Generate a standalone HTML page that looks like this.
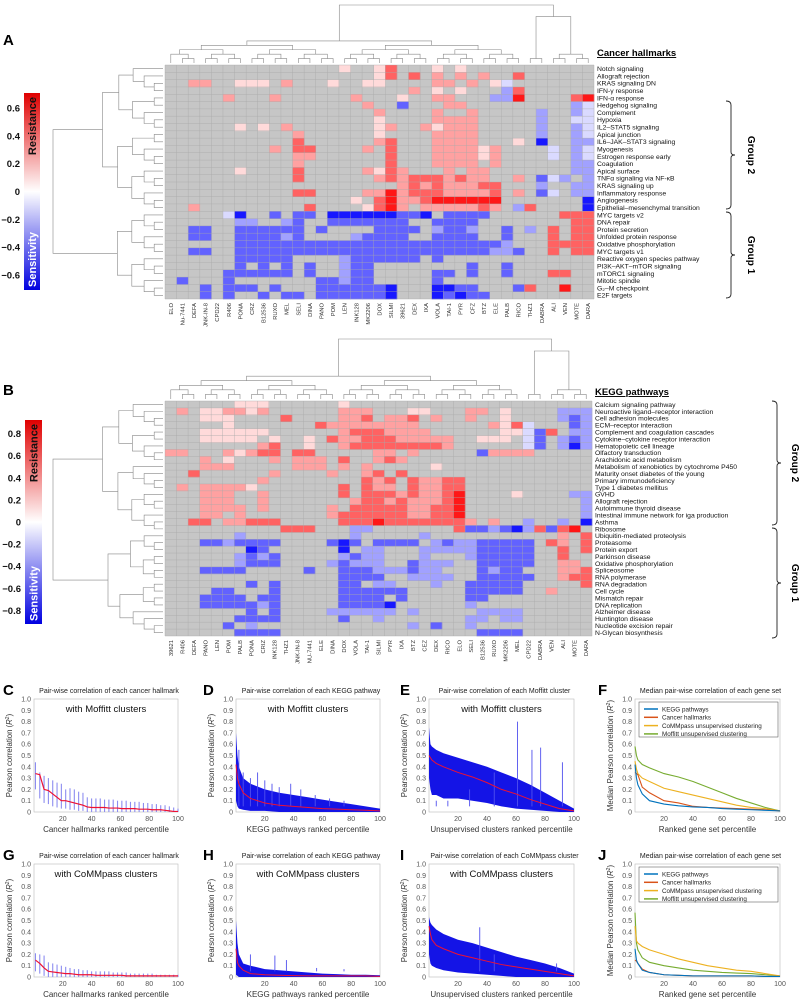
<!DOCTYPE html>
<html><head><meta charset="utf-8">
<style>
html,body{margin:0;padding:0;background:#fff;}
svg{display:block;font-family:"Liberation Sans",Arial,sans-serif;}
</style></head>
<body>
<svg id="fig" width="799" height="999" viewBox="0 0 799 999" xmlns="http://www.w3.org/2000/svg"></svg>
<script>
// ---------- DATA ----------
const colsA = ["ELO","Nu-7441","DEFA","JNK-IN-8","CPD22","R406","PONA","CRZ","B12536","RUXO","MEL","SELI","DINA","PANO","POM","LEN","INK128","MK2206","DOX","SILMI","39621","DEX","IXA","VOLA","TAI-1","PYR","CFZ","BTZ","ELE","PALB","RICO","THZ1","DABRA","ALI","VEN","MOTE","DARA"];
const rowsA = ["Notch signaling","Allograft rejection","KRAS signaling DN","IFN-γ response","IFN-α response","Hedgehog signaling","Complement","Hypoxia","IL2–STAT5 signaling","Apical junction","IL6–JAK–STAT3 signaling","Myogenesis","Estrogen response early","Coagulation","Apical surface","TNFα signaling via NF-κB","KRAS signaling up","Inflammatory response","Angiogenesis","Epithelial–mesenchymal transition","MYC targets v2","DNA repair","Protein secretion","Unfolded protein response","Oxidative phosphorylation","MYC targets v1","Reactive oxygen species pathway","PI3K–AKT–mTOR signaling","mTORC1 signaling","Mitotic spindle","G₂–M checkpoint","E2F targets"];
const cellsA = [
".......... .....a..aR ...a.a.... .......",
".......... ........aR .R.r.r.r.. R......",
"..rr..aaa. r...a..aa. ...rr.r.ac .......",
".......... .......... .r.a.a...b R......",
".....r...r ......r... a..rr...bb S....RS",
".......... .......r.. B...rr.... .....bc",
".......... ........r. ...r..r... ..b..bc",
".......... ........a. ...rrrr... ..b..cc",
"......a.a. r.......ar ..rarrr... ..b..bc",
".......... .r......a. ...rrrr... ..b..bc",
".......... .R......rR ...rrrr... a.D..bb",
".........r .RR....r.R ...rrrrar. ...c.bc",
".......... .rr......R ...rrrrar. ...c.bc",
".......... .r.......R ...rrrr.r. .....bb",
"......a... .R.....raR r...r.rr.. .....bb",
".......... .R......rR rRRRrRrr.. r.Bcb.b",
".......... .......... rRrRrrrRR. ..b..bb",
".......... .RR....rrS rRRRrrrrR. r.Bc.bb",
".......... ......a.RS rrRSSSSSS. ......D",
"..r....... ..R....aRS r.rrrrrRr. bR....D",
".....cD..B .BB.DDDDDD BBD.BBBB.. ....RRR",
"......bb.. bB..BBBBBB B..BBBB... .....RR",
"..BB..BBBB BB.B....BB BB.bBBb..B .b.R.RR",
"..BB..BBBB bB....bBBB B..BBBB..B ...R.RR",
"......BBBB BBBBBBBBBB BBBBBBBBBb ...RRRR",
"..BB..BBBB BBBBBBBBBB BBBBBBBBbb B..R.RR",
"......BBBB B....bBBBB BB.B...... .......",
"......B.B. B.B..bBB.. ......B..B .......",
".....BBBBB B.B..bBB.. ...BB.B..B ...RR..",
".B...B.... ...BBbBB.. ...B...... .......",
"...B.BBB.B ...BBBBBBD ...DDBB... BR..S..",
"...B.B..B. BB.BBBBBBD ...DBDBB.. ......."];
const colsB = ["39621","R406","DEFA","PANO","LEN","POM","PALB","PONA","CRIZ","INK128","THZ1","JNK-IN-8","NU-7441","ELE","DINA","DOX","VOLA","TAI-1","SILMI","PYR","IXA","BTZ","CEZ","DEX","RICO","ELO","SELI","B12536","RUXO","MK2206","MEL","CPD22","DABRA","VEN","ALI","MOTE","DARA"];
const rowsB = ["Calcium signaling pathway","Neuroactive ligand–receptor interaction","Cell adhesion molecules","ECM–receptor interaction","Complement and coagulation cascades","Cytokine–cytokine receptor interaction","Hematopoietic cell lineage","Olfactory transduction","Arachidonic acid metabolism","Metabolism of xenobiotics by cytochrome P450","Maturity onset diabetes of the young","Primary immunodeficiency","Type 1 diabetes mellitus","GVHD","Allograft rejection","Autoimmune thyroid disease","Intestinal immune network for iga production","Asthma","Ribosome","Ubiquitin-mediated proteolysis","Proteasome","Protein export","Parkinson disease","Oxidative phosphorylation","Spliceosome","RNA polymerase","RNA degradation","Cell cycle","Mismatch repair","DNA replication","Alzheimer disease","Huntington disease","Nucleotide excision repair","N-Glycan biosynthesis"];
const cellsB = [
"......aaa. .....a.... .......... .......",
".r.aarrar. .....rrr.. .aa...rr.a ....bbb",
"...aaa.... R....rrR.r rR.r..r..a ....bBb",
".....a.... ...Rrrrrrr rr......ra Rc...Bb",
"...aaaaaa. .....rRRRr rrr......a acBR.bb",
"...aaaaa.a ..a.RrrRRR rrrrr..aaa .cB.bBb",
"........rR ..a..rRRRR RRRRr..... .cB.bDb",
"rr...rarRR .RR.....rr .r.....Brr rr.....",
"...r.a...r .rrr.R..rR r......... .......",
"...rrr.... .rrr.r.r.. ...a...... .......",
"..R......r ....r..rR. R......... .......",
"........r. .......RrR .RrrRR.... .......",
".r.rrrra.. .....R.Rrr .RrrRR.... .......",
"...rrr..r. .....R.RRR rRrrRS.... a....bb",
"...rrr..r. ......rRRr RrrrRS.... ......b",
"...rrrr.r. ....r.RRRR RrrRRS.... ......b",
"...rr.r... ....rRRRRR RrrRRS.... ......b",
"..RR.rrRRR .....RRRSR RRRRRRr.r. .b..b.D",
".......... RRR...bb.. .....RBBbB DbRBRS.",
"......b... ......b... ..b....... ....r.R",
"...BBbBBBB ....BDB.BB BB.bBbbBBB BB.Rr.R",
".......DB. .....D.bb. ..bbbbbBBB BB..R.R",
"......bBbB .....bBbb. ..b...bBBB BB..R..",
"......bBBB ....bBbbb. .Bbbb..BBB BB..rr.",
"...BBBB... ..B..BBBbb bBbb...BbB B...rrR",
".......... .....BBBB. .bbbb..BBB BB..rRR",
".......B.B .....BB.bb ...b..BBBB B.....R",
"....BB...B .....BBBBB B.....BBBB B..r...",
"...BBBB.BB .....BBBB. B.....BB.. .......",
"...BBBBBbB .....BBBBD ......b... .......",
".......B.B ....bbbbbb .b.....bbb b......",
"......BBBB .....B..b. ......bb.b b......",
".....B.b.. .......... .b.B..b... .......",
"......BBBB .......... .......BBB B......"];
const codeVal = {".":null,"a":0.1,"r":0.25,"R":0.42,"S":0.62,"c":-0.1,"b":-0.25,"B":-0.42,"D":-0.62};

// bottom panel data
const cX = [1,4,7,10,13,16,19,22,25,28,31,34,37,40,43,46,49,52,55,58,61,64,67,70,73,76,79,82,85,88,91,94,97,100];
const cMed = [0.34,0.33,0.2,0.19,0.16,0.13,0.1,0.1,0.09,0.08,0.07,0.06,0.045,0.04,0.04,0.04,0.04,0.035,0.035,0.035,0.03,0.03,0.03,0.03,0.025,0.025,0.025,0.02,0.02,0.02,0.015,0.01,0.005,0.005];
const cHi = [0.44,0.35,0.32,0.3,0.28,0.26,0.25,0.2,0.21,0.2,0.18,0.17,0.13,0.12,0.12,0.12,0.11,0.11,0.11,0.1,0.1,0.1,0.09,0.09,0.09,0.08,0.08,0.07,0.07,0.06,0.06,0.05,0.04,0.03];
const cLo = [0.2,0.12,0.08,0.07,0.05,0.04,0.03,0.03,0.02,0.02,0.01,0.01,0,0,0,0,0,0,0,0,0,0,0,0,0,0,0,0,0,0,0,0,0,0];
const gMed = [0.15,0.12,0.08,0.05,0.045,0.04,0.035,0.03,0.03,0.025,0.02,0.02,0.02,0.02,0.015,0.015,0.015,0.015,0.015,0.015,0.015,0.01,0.01,0.01,0.01,0.01,0.01,0.01,0.01,0.01,0.01,0.01,0.01,0.01];
const gHi = [0.21,0.2,0.19,0.13,0.12,0.11,0.1,0.09,0.08,0.07,0.07,0.06,0.06,0.05,0.05,0.05,0.05,0.05,0.04,0.04,0.04,0.04,0.03,0.03,0.03,0.03,0.03,0.03,0.02,0.02,0.02,0.02,0.02,0.02];
const gLo = [0.05,0.03,0.01,0,0,0,0,0,0,0,0,0,0,0,0,0,0,0,0,0,0,0,0,0,0,0,0,0,0,0,0,0,0,0];
const bandX = [0,1,2,5,10,20,30,40,50,60,70,80,90,100];
const dMed = [0.42,0.3,0.25,0.17,0.12,0.08,0.06,0.05,0.04,0.03,0.025,0.02,0.015,0.01];
const dHi = [0.7,0.5,0.4,0.3,0.25,0.2,0.17,0.15,0.13,0.11,0.09,0.07,0.05,0.03];
const dLo = [0.1,0.05,0.03,0.02,0.01,0.01,0,0,0,0,0,0,0,0];
const dSpX = [2,5,10,15,20,25,30,38,45,55,65,75];
const dSpY = [0.55,0.35,0.3,0.35,0.28,0.25,0.22,0.25,0.2,0.15,0.12,0.1];
const eMed = [0.5,0.48,0.46,0.43,0.4,0.35,0.31,0.26,0.2,0.16,0.11,0.07,0.03,0.01];
const eHi = [0.75,0.6,0.58,0.55,0.52,0.48,0.44,0.4,0.35,0.3,0.24,0.17,0.1,0.03];
const eLo = [0.3,0.2,0.15,0.15,0.12,0.12,0.1,0.08,0.05,0.03,0.02,0.01,0,0];
const eSpX = [5,13,28,45,61,71,77,92];
const eSpY = [0.1,0.1,0.2,0.35,0.8,0.55,0.57,0.44];
const hMed = [0.25,0.13,0.1,0.06,0.03,0.02,0.015,0.012,0.01,0.01,0.01,0.01,0.01,0.005];
const hHi = [0.5,0.3,0.2,0.12,0.1,0.07,0.06,0.05,0.04,0.03,0.025,0.02,0.02,0.015];
const hLo = [0.02,0.01,0,0,0,0,0,0,0,0,0,0,0,0];
const hSpX = [10,27,35,56,75];
const hSpY = [0.2,0.19,0.15,0.08,0.07];
const iMed = [0.45,0.38,0.33,0.28,0.25,0.2,0.17,0.14,0.11,0.09,0.07,0.05,0.03,0.01];
const iHi = [0.53,0.48,0.46,0.42,0.38,0.33,0.3,0.26,0.22,0.18,0.15,0.12,0.08,0.03];
const iLo = [0.2,0.12,0.1,0.08,0.06,0.04,0.03,0.02,0.01,0,0,0,0,0];
const iSpX = [35,45,88];
const iSpY = [0.44,0.2,0.12];
const legendNames = ["KEGG pathways","Cancer hallmarks","CoMMpass unsupervised clustering","Moffitt unsupervised clustering"];
const fKegg = [0.42,0.3,0.24,0.16,0.1,0.07,0.055,0.045,0.04,0.03,0.025,0.02,0.015,0.01];
const fHall = [0.35,0.34,0.33,0.22,0.17,0.1,0.08,0.05,0.04,0.035,0.03,0.025,0.02,0.01];
const fComm = [0.45,0.38,0.34,0.3,0.27,0.21,0.18,0.15,0.12,0.09,0.06,0.04,0.03,0.01];
const fMoff = [0.58,0.5,0.46,0.42,0.39,0.34,0.31,0.27,0.22,0.17,0.12,0.08,0.04,0.01];
const jKegg = [0.25,0.15,0.12,0.06,0.04,0.02,0.015,0.01,0.01,0.01,0.01,0.01,0.005,0.005];
const jHall = [0.15,0.14,0.12,0.07,0.04,0.02,0.015,0.01,0.01,0.01,0.01,0.01,0.005,0.005];
const jComm = [0.45,0.32,0.3,0.27,0.24,0.2,0.16,0.13,0.1,0.08,0.06,0.05,0.03,0.01];
const jMoff = [0.57,0.3,0.24,0.17,0.13,0.1,0.08,0.06,0.05,0.04,0.035,0.03,0.02,0.01];

// ---------- HELPERS ----------
const NS = "http://www.w3.org/2000/svg";
const svg = document.getElementById("fig");
function el(tag, attrs, parent, txt){
  const e = document.createElementNS(NS, tag);
  for (const k in attrs) e.setAttribute(k, attrs[k]);
  if (txt !== undefined) e.textContent = txt;
  (parent || svg).appendChild(e);
  return e;
}
function grp(name, parent){
  const g = el("g", {}, parent);
  
  
  return g;
}
function valColor(v){
  const t = Math.min(1, Math.abs(v)/0.68);
  const c = Math.round(255*(1-t));
  return v > 0 ? `rgb(255,${c},${c})` : `rgb(${c},${c},255)`;
}

// ---------- HEATMAP ----------
function heatmap(opts){
  const {name, x0, x1, y0, y1, cols, rows, cells, split, title, titleY, colTop, rowLeft} = opts;
  const g = grp(name);
  const nC = cols.length, nR = rows.length;
  const cw = (x1-x0)/nC, rh = (y1-y0)/nR;
  el("rect", {x:x0, y:y0, width:x1-x0, height:y1-y0, fill:"#c6c6c6"}, g);
  rows.forEach((rn, r) => {
    const s = cells[r].replace(/ /g, "");
    for (let c = 0; c < nC; c++){
      const v = codeVal[s[c] || "."];
      if (v === null || v === undefined) continue;
      const cell = el("rect", {x:(x0+c*cw).toFixed(2), y:(y0+r*rh).toFixed(2), width:(cw+0.3).toFixed(2), height:(rh+0.3).toFixed(2), fill:valColor(v)}, g);
      
      
    }
  });
  for (let c = 0; c <= nC; c++) el("line", {x1:x0+c*cw, x2:x0+c*cw, y1:y0, y2:y1, stroke:"#a9a9a9", "stroke-width":0.4}, g);
  for (let r = 0; r <= nR; r++) el("line", {x1:x0, x2:x1, y1:y0+r*rh, y2:y0+r*rh, stroke:"#a9a9a9", "stroke-width":0.4}, g);
  rows.forEach((rn, r) => {
    const t = el("text", {x:x1+3, y:y0+(r+0.5)*rh+2.4, "font-size":6.8, fill:"#111"}, g, rn);
    
    
  });
  cols.forEach((cn, c) => {
    const cx = x0+(c+0.5)*cw+2;
    const t = el("text", {x:cx, y:y1+4, "font-size":5.8, fill:"#333", "text-anchor":"end", transform:`rotate(-90 ${cx} ${y1+4})`}, g, cn);
    
    
  });
  const tt = el("text", {x:x1+3, y:titleY, "font-size":9.5, "font-weight":"bold", "text-decoration":"underline", fill:"#000"}, g, title);
  
  
  const dg = grp(name+"-row-dendrogram", g);
  function rtree(lo, hi, forced){
    if (hi - lo === 1) return {p: y0+(lo+0.5)*rh, h: 0};
    const mid = forced || Math.floor((lo+hi)/2 + ((lo*7+hi*3)%3-1)*0.4);
    const m = Math.min(hi-1, Math.max(lo+1, mid));
    const a = rtree(lo, m), b = rtree(m, hi);
    const h = forced ? 1 : Math.max(a.h, b.h) + 0.06 + 0.02*Math.log2(hi-lo);
    return {p:(a.p+b.p)/2, h, a, b};
  }
  function drawR(n, scale){
    if (!n.a) return;
    const X = rowLeft.x - n.h*scale;
    const xa = rowLeft.x - n.a.h*scale, xb = rowLeft.x - n.b.h*scale;
    el("path", {d:`M${xa},${n.a.p}H${X}V${n.b.p}H${xb}`, fill:"none", stroke:"#888", "stroke-width":0.6}, dg);
    drawR(n.a, scale); drawR(n.b, scale);
  }
  const rt = rtree(0, nR, split);
  rt.a.h = Math.min(rt.a.h, 0.55); rt.b.h = Math.min(rt.b.h, 0.5);
  drawR(rt, rowLeft.w);
  const cg = grp(name+"-column-dendrogram", g);
  function ctree(lo, hi){
    if (hi - lo === 1) return {p: x0+(lo+0.5)*cw, h: 0};
    const m = Math.floor((lo+hi)/2 + ((lo*5+hi)%3-1)*0.5);
    const mm = Math.min(hi-1, Math.max(lo+1, m));
    const a = ctree(lo, mm), b = ctree(mm, hi);
    const h = Math.max(a.h, b.h) + 0.05;
    return {p:(a.p+b.p)/2, h, a, b};
  }
  // root splits off the right-most small cluster
  const ra = ctree(0, nC-6), rb = ctree(nC-6, nC);
  rb.h = rb.h * 3.5;
  const ct = {a:ra, b:rb, h:Math.max(ra.h, rb.h)*1.25};
  ct.p = (ra.p+rb.p)/2;
  const cmax = ct.h;
  function drawC(n){
    if (!n.a) return;
    const Y = colTop.y - n.h/cmax*colTop.h;
    const ya = colTop.y - n.a.h/cmax*colTop.h, yb = colTop.y - n.b.h/cmax*colTop.h;
    el("path", {d:`M${n.a.p},${ya}V${Y}H${n.b.p}V${yb}`, fill:"none", stroke:"#888", "stroke-width":0.6}, cg);
    drawC(n.a); drawC(n.b);
  }
  drawC(ct);
}
function colorbar(name, x, y, w, h, maxV, ticks){
  const g = grp(name);
  const id = name+"-grad";
  const defs = el("defs", {}, g);
  const lg = el("linearGradient", {id, x1:0, y1:0, x2:0, y2:1}, defs);
  el("stop", {offset:"0%", "stop-color":"#e00000"}, lg);
  el("stop", {offset:"50%", "stop-color":"#ffffff"}, lg);
  el("stop", {offset:"100%", "stop-color":"#0000e0"}, lg);
  el("rect", {x, y, width:w, height:h, fill:`url(#${id})`}, g);
  ticks.forEach(t => {
    const ty = y + h/2 - t/maxV*(h/2-8);
    const tx = el("text", {x:x-4, y:ty+3.5, "font-size":9.5, "font-weight":"bold", "text-anchor":"end", fill:"#111"}, g, t === 0 ? "0" : (t<0?"−":"")+Math.abs(t).toFixed(1));
    
    
  });
  const cx = x + w/2 + 4;
  el("text", {x:cx, y:y+4, "font-size":11, "font-weight":"bold", "text-anchor":"end", fill:"#111", transform:`rotate(-90 ${cx} ${y+4})`}, g, "Resistance");
  el("text", {x:cx, y:y+h-3, "font-size":11, "font-weight":"bold", "text-anchor":"start", fill:"#fff", transform:`rotate(-90 ${cx} ${y+h-3})`}, g, "Sensitivity");
}
function brace(name, x, ya, yb, label, lx){
  const g = grp(name);
  const m = (ya+yb)/2;
  el("path", {d:`M${x-4},${ya} Q${x+1},${ya} ${x+1},${ya+4} V${m-3} Q${x+1},${m} ${x+5},${m} Q${x+1},${m} ${x+1},${m+3} V${yb-4} Q${x+1},${yb} ${x-4},${yb}`, fill:"none", stroke:"#222", "stroke-width":0.9}, g);
  el("text", {x:lx, y:m, "font-size":10, "font-weight":"bold", "text-anchor":"middle", fill:"#000", transform:`rotate(90 ${lx} ${m})`}, g, label);
}
function letter(t, x, y){
  const e = el("text", {x, y, "font-size":15, "font-weight":"bold", fill:"#000"}, svg, t);
  
  
}

letter("A", 3, 45);
heatmap({name:"hallmarks-heatmap", x0:165, x1:594, y0:65, y1:299, cols:colsA, rows:rowsA, cells:cellsA, split:20, title:"Cancer hallmarks", titleY:56, colTop:{y:63,h:58}, rowLeft:{x:163,w:110}});
colorbar("hallmarks-colorbar", 24, 93, 16, 197, 0.65, [0.6,0.4,0.2,0,-0.2,-0.4,-0.6]);
brace("group2-brace-a", 730, 101, 209, "Group 2", 748);
brace("group1-brace-a", 730, 212, 298, "Group 1", 748);

letter("B", 3, 395);
heatmap({name:"kegg-heatmap", x0:165, x1:592, y0:401, y1:636, cols:colsB, rows:rowsB, cells:cellsB, split:19, title:"KEGG pathways", titleY:395, colTop:{y:399,h:60}, rowLeft:{x:163,w:110}});
colorbar("kegg-colorbar", 25, 420, 17, 204, 0.85, [0.8,0.6,0.4,0.2,0,-0.2,-0.4,-0.6,-0.8]);
brace("group2-brace-b", 776, 401, 525, "Group 2", 792);
brace("group1-brace-b", 776, 528, 638, "Group 1", 792);

// ---------- LINE PANELS ----------
function axesPanel(name, X0, X1, Y0, Y1, title, xlabel, ylabel, inner){
  const g = grp(name);
  const sx = v => X0 + v/100*(X1-X0);
  const sy = v => Y1 - v*(Y1-Y0);
  el("rect", {x:X0, y:Y0, width:X1-X0, height:Y1-Y0, fill:"#fff", stroke:"#bbb", "stroke-width":0.6}, g);
  for (let i = 0; i <= 10; i++){
    const v = i/10;
    el("text", {x:X0-3, y:sy(v)+2.5, "font-size":7, "text-anchor":"end", fill:"#555"}, g, v.toFixed(i===0?0:1));
  }
  [20,40,60,80,100].forEach(v => el("text", {x:sx(v), y:Y1+9, "font-size":7, "text-anchor":"middle", fill:"#555"}, g, String(v)));
  const tt = el("text", {x:(X0+X1)/2+3, y:Y0-6, "font-size":7, "text-anchor":"middle", fill:"#222"}, g, title);
  
  
  el("text", {x:(X0+X1)/2, y:Y1+20, "font-size":8, "text-anchor":"middle", fill:"#333"}, g, xlabel);
  const ly = (Y0+Y1)/2, lx = X0-22;
  const yl = el("text", {x:lx, y:ly, "font-size":7.8, "text-anchor":"middle", fill:"#333", transform:`rotate(-90 ${lx} ${ly})`}, g);
  yl.innerHTML = ylabel;
  if (inner) el("text", {x:(X0+X1)/2, y:Y0+13, "font-size":9.5, "text-anchor":"middle", fill:"#111"}, g, inner);
  return {g, sx, sy};
}
const YL = "Pearson correlation (<tspan font-style='italic'>R</tspan><tspan font-size='5' dy='-3'>2</tspan><tspan dy='3'>)</tspan>";
const YLM = "Median Pearson correlation (<tspan font-style='italic'>R</tspan><tspan font-size='5' dy='-3'>2</tspan><tspan dy='3'>)</tspan>";
function linePath(xs, ys, sx, sy){ return xs.map((x,i)=>(i?"L":"M")+sx(x).toFixed(2)+","+sy(ys[i]).toFixed(2)).join(""); }

function errPanel(name, X0, X1, Y0, Y1, title, xl, inner, xs, med, hi, lo){
  const {g, sx, sy} = axesPanel(name, X0, X1, Y0, Y1, title, xl, YL, inner);
  xs.forEach((x,i) => {
    const b = el("line", {x1:sx(x), x2:sx(x), y1:sy(lo[i]), y2:sy(hi[i]), stroke:"#8c8cf0", "stroke-width":1.1}, g);
    
    
  });
  const p = el("path", {d:linePath(xs, med, sx, sy), fill:"none", stroke:"#ee1133", "stroke-width":1.2}, g);
  
  
}
function bandPanel(name, X0, X1, Y0, Y1, title, xl, inner, med, hi, lo, spX, spY){
  const {g, sx, sy} = axesPanel(name, X0, X1, Y0, Y1, title, xl, YL, inner);
  const up = bandX.map((x,i)=>sx(x).toFixed(2)+","+sy(hi[i]).toFixed(2));
  const dn = bandX.map((x,i)=>sx(x).toFixed(2)+","+sy(lo[i]).toFixed(2)).reverse();
  const band = el("polygon", {points:up.concat(dn).join(" "), fill:"#1414e6"}, g);
  
  
  spX.forEach((x,i) => {
    const s = el("line", {x1:sx(x), x2:sx(x), y1:sy(0.05), y2:sy(spY[i]), stroke:"#5050ee", "stroke-width":0.9}, g);
    
    
  });
  const p = el("path", {d:linePath(bandX, med, sx, sy), fill:"none", stroke:"#ee1133", "stroke-width":1}, g);
  
  
}
function medPanel(name, X0, X1, Y0, Y1, series){
  const {g, sx, sy} = axesPanel(name, X0, X1, Y0, Y1, "Median pair-wise correlation of each gene set", "Ranked gene set percentile", YLM, null);
  const colors = ["#0072bd","#d95319","#edb120","#77ac30"];
  [3,2,1,0].forEach(k => {
    const p = el("path", {d:linePath(bandX, series[k], sx, sy), fill:"none", stroke:colors[k], "stroke-width":1.1}, g);
    
    
  });
  const lg = grp("legend", g);
  el("rect", {x:X0+4, y:Y0+3, width:X1-X0-6, height:35, fill:"#fff", stroke:"#444", "stroke-width":0.5}, lg);
  legendNames.forEach((n,k) => {
    const yy = Y0+10+k*8.3;
    el("line", {x1:X0+9, x2:X0+23, y1:yy, y2:yy, stroke:colors[k], "stroke-width":1.5}, lg);
    const t = el("text", {x:X0+27, y:yy+2.3, "font-size":6.3, fill:"#222"}, lg, n);
    
    
  });
}

letter("C", 3, 695); letter("D", 203, 695); letter("E", 400, 695); letter("F", 598, 695);
letter("G", 3, 860); letter("H", 203, 860); letter("I", 400, 860); letter("J", 598, 860);

errPanel("panel-c", 34, 178, 699, 812, "Pair-wise correlation of each cancer hallmark", "Cancer hallmarks ranked percentile", "with Moffitt clusters", cX, cMed, cHi, cLo);
bandPanel("panel-d", 236, 380, 699, 812, "Pair-wise correlation of each KEGG pathway", "KEGG pathways ranked percentile", "with Moffitt clusters", dMed, dHi, dLo, dSpX, dSpY);
bandPanel("panel-e", 429, 574, 699, 812, "Pair-wise correlation of each Moffitt cluster", "Unsupervised clusters ranked percentile", "with Moffitt clusters", eMed, eHi, eLo, eSpX, eSpY);
medPanel("panel-f", 635, 780, 699, 812, [fKegg, fHall, fComm, fMoff]);
errPanel("panel-g", 34, 178, 864, 977, "Pair-wise correlation of each cancer hallmark", "Cancer hallmarks ranked percentile", "with CoMMpass clusters", cX, gMed, gHi, gLo);
bandPanel("panel-h", 236, 380, 864, 977, "Pair-wise correlation of each KEGG pathway", "KEGG pathways ranked percentile", "with CoMMpass clusters", hMed, hHi, hLo, hSpX, hSpY);
bandPanel("panel-i", 429, 574, 864, 977, "Pair-wise correlation of each CoMMpass cluster", "Unsupervised clusters ranked percentile", "with CoMMpass clusters", iMed, iHi, iLo, iSpX, iSpY);
medPanel("panel-j", 635, 780, 864, 977, [jKegg, jHall, jComm, jMoff]);
</script>
</body></html>
